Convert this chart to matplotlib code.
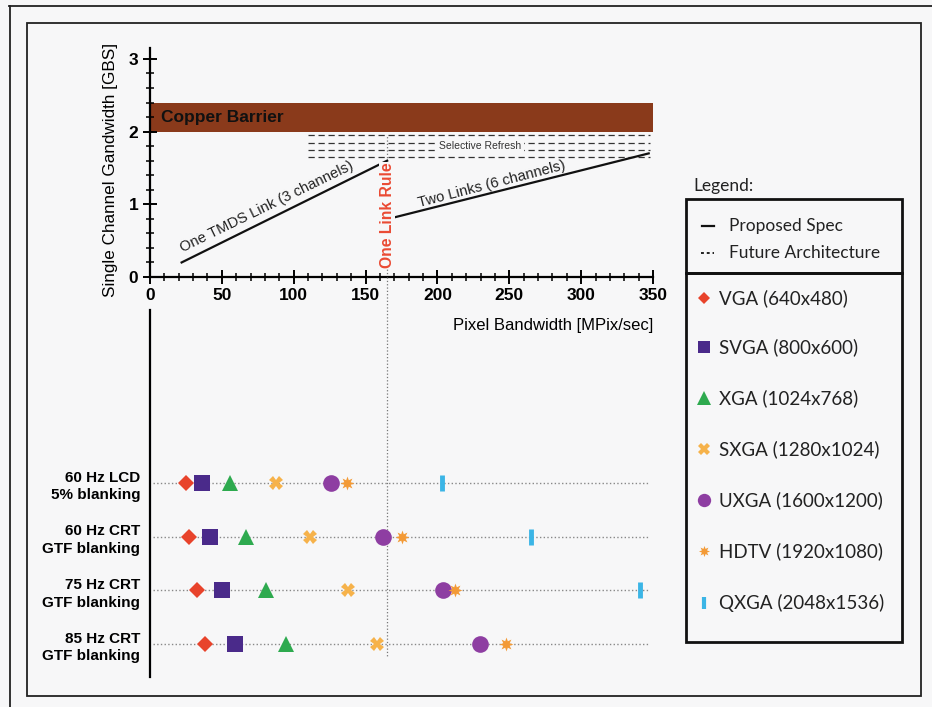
import matplotlib
matplotlib.use("Agg")
import matplotlib.pyplot as plt
from matplotlib.patches import Rectangle
from matplotlib.ticker import MultipleLocator

plt.rcParams['font.family'] = ['Liberation Sans', 'DejaVu Sans']

# ---------------- data ----------------
one_link_x = [22, 165]
one_link_y = [0.2, 1.6]
two_link_x = [170, 347]
two_link_y = [0.82, 1.7]
future_levels = [1.95, 1.85, 1.75, 1.65]
future_x = [110, 348]
copper_lo, copper_hi = 2.0, 2.4
one_link_rule = 165

rows = ["60 Hz LCD\n5% blanking", "60 Hz CRT\nGTF blanking",
        "75 Hz CRT\nGTF blanking", "85 Hz CRT\nGTF blanking"]
vga = [25, 27, 33, 38]
svga = [36.5, 41.8, 50.3, 59.2]
xga = [55.7, 66.6, 80.5, 94.4]
sxga = [88, 111, 138, 157.7]
uxga = [125.7, 162.4, 203.7, 229.6]
hdtv = [137, 175, 212, 248]
qxga = [203, 265, 341, None]

res_names = ["VGA (640x480)", "SVGA (800x600)", "XGA (1024x768)",
             "SXGA (1280x1024)", "UXGA (1600x1200)", "HDTV (1920x1080)",
             "QXGA (2048x1536)"]
res_values = [vga, svga, xga, sxga, uxga, hdtv, qxga]
res_colors = ['#e8432b', '#4a2a8a', '#2eaa4f', '#f6b24a', '#8e3ea2', '#f39a36', '#3bb5e6']
res_markers = ['D', 's', '^', 'X', 'o', (8, 1, 0), '|']
res_sizes = [8, 11, 12, 10, 12, 10, 12]

W, H = 932, 707
bg = '#f7f7f8'
fig = plt.figure(figsize=(W / 100, H / 100), dpi=100, facecolor=bg)


def px_rect(x0, y0, x1, y1):
    return [x0 / W, 1 - y1 / H, (x1 - x0) / W, (y1 - y0) / H]


# ---------------- top panel ----------------
ax = fig.add_axes(px_rect(150, 48, 653, 277))
ax.set_facecolor('none')
ax.set_xlim(0, 350)
ax.set_ylim(0, 3.15)
for s in ['top', 'right']:
    ax.spines[s].set_visible(False)
ax.spines['left'].set_linewidth(1.6)
ax.spines['bottom'].set_linewidth(1.6)
ax.xaxis.set_major_locator(MultipleLocator(50))
ax.xaxis.set_minor_locator(MultipleLocator(10))
ax.yaxis.set_major_locator(MultipleLocator(1))
ax.yaxis.set_minor_locator(MultipleLocator(0.2))
ax.tick_params(which='major', direction='inout', length=10, width=1.4, labelsize=12.5)
ax.tick_params(which='minor', direction='inout', length=6, width=1.1)
ax.tick_params(axis='x', pad=3)
for lab in ax.get_xticklabels() + ax.get_yticklabels():
    lab.set_fontweight('bold')
ax.set_ylabel("Single Channel Gandwidth [GBS]", fontsize=12.3)
ax.yaxis.set_label_coords(-0.064, 0.467)
ax.set_xlabel("Pixel Bandwidth [MPix/sec]", fontsize=12, loc='right', labelpad=11)

ax.add_patch(Rectangle((0, copper_lo), 350, copper_hi - copper_lo,
                       facecolor='#8a3a1b', edgecolor='none', zorder=1))
ax.text(8, (copper_lo + copper_hi) / 2, "Copper Barrier", fontsize=12.5,
        fontweight='bold', va='center', ha='left', color='#111111', zorder=3)

ax.hlines(future_levels, future_x[0], future_x[1], colors='#333333',
          linestyles=(0, (5, 3)), linewidth=0.9, zorder=2)
ax.text(230, 1.80, "Selective Refresh", fontsize=7.5, ha='center', va='center',
        color='#333333', zorder=4,
        bbox=dict(facecolor=bg, edgecolor='none', pad=1.5))

ax.plot(one_link_x, one_link_y, color='#111111', lw=1.6, zorder=3)
ax.plot(two_link_x, two_link_y, color='#111111', lw=1.6, zorder=3)
ax.text(81, 0.96, "One TMDS Link (3 channels)", fontsize=10.6, rotation=26,
        ha='center', va='center', color='#222222')
ax.text(238, 1.28, "Two Links (6 channels)", fontsize=10.6, rotation=14.5,
        ha='center', va='center', color='#222222')

ax.vlines(one_link_rule, 0, future_levels[0], colors='#777777',
          linestyles=':', linewidth=0.9, zorder=2)
ax.text(one_link_rule, 0.12, "One Link Rule", rotation=90, fontsize=11.3,
        fontweight='bold', color='#ea4a33', ha='center', va='bottom', zorder=5,
        bbox=dict(facecolor=bg, edgecolor='none', pad=0.5))

# ---------------- bottom panel ----------------
ax2 = fig.add_axes(px_rect(150, 277, 653, 677))
ax2.set_facecolor('none')
ax2.set_xlim(0, 350)
row_pos = list(range(len(rows)))
ax2.set_ylim(3.615, -3.84)
for s in ['top', 'right', 'bottom']:
    ax2.spines[s].set_visible(False)
ax2.spines['left'].set_linewidth(1.6)
ax2.spines['left'].set_bounds(-3.22, 3.615)
ax2.set_xticks([])
ax2.set_yticks(row_pos)
ax2.set_yticklabels(rows, fontsize=11, fontweight='bold', linespacing=1.35)
ax2.tick_params(axis='y', length=0, pad=7)

ax2.hlines(row_pos, 2, 347, colors='#888888', linestyles=':', linewidth=1.0, zorder=1)
ax2.vlines(one_link_rule, -3.84, 3.24, colors='#777777', linestyles=':',
           linewidth=0.9, zorder=1)

for vals, c, m, ms in zip(res_values, res_colors, res_markers, res_sizes):
    xs = [v for v in vals if v is not None]
    ys = [r for v, r in zip(vals, row_pos) if v is not None]
    if m == '|':
        ax2.plot(xs, ys, ls='none', marker=m, ms=ms, mew=3.5, color=c, zorder=3)
    else:
        ax2.plot(xs, ys, ls='none', marker=m, ms=ms, mew=0, color=c, zorder=3)

# ---------------- legend & frames (pixel space overlay) ----------------
ov = fig.add_axes([0, 0, 1, 1])
ov.set_xlim(0, W)
ov.set_ylim(H, 0)
ov.axis('off')
ov.patch.set_alpha(0)

ov.add_patch(Rectangle((27, 23), 894, 673, fill=False, edgecolor='#222222', lw=1.3))
ov.plot([9, W], [6, 6], color='#222222', lw=1.3)
ov.plot([10, 10], [6, H], color='#222222', lw=1.3)

leg_font = ['Lato', 'DejaVu Sans']
ov.text(693, 186, "Legend:", fontsize=12.5, family=leg_font, va='center', ha='left', color='#222222')
ov.add_patch(Rectangle((686, 199), 216, 74, fill=False, edgecolor='#111111', lw=2))
ov.add_patch(Rectangle((686, 273), 216, 369, fill=False, edgecolor='#111111', lw=2))

ov.plot([702, 714], [226, 226], color='#111111', lw=1.6)
ov.plot([701, 714], [253, 253], color='#111111', lw=1.3, ls=(0, (1.6, 1.6)))
ov.text(729, 226, "Proposed Spec", fontsize=12.5, family=leg_font, va='center', color='#222222')
ov.text(729, 253, "Future Architecture", fontsize=12.5, family=leg_font, va='center', color='#222222')

leg_y = [298, 347, 398, 449, 500, 551, 603]
for name, c, m, ms, yy in zip(res_names, res_colors, res_markers, res_sizes, leg_y):
    if m == '|':
        ov.plot([704], [yy], marker=m, ms=9, mew=3, color=c, ls='none')
    else:
        ov.plot([704], [yy], marker=m, ms=ms * 0.8, mew=0, color=c, ls='none')
    ov.text(719, yy, name, fontsize=13.5, family=leg_font, va='center', color='#222222')

fig.savefig("out.png", dpi=100, facecolor=bg)
